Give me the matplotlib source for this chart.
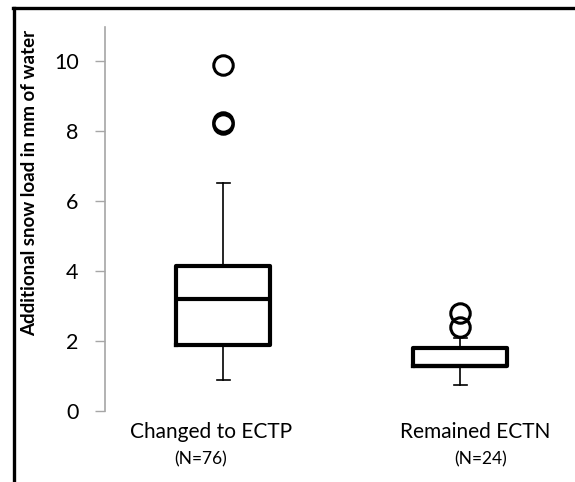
import matplotlib
matplotlib.use("Agg")
import matplotlib.pyplot as plt
from matplotlib.lines import Line2D

plt.rcParams['font.family'] = ['Lato', 'DejaVu Sans']

# Box plot statistics
groups = ['Changed to ECTP', 'Remained ECTN']
counts = ['(N=76)', '(N=24)']
whisker_low = [0.9, 0.74]
quart_low = [1.89, 1.29]
medians = [3.19, 1.3]
quart_high = [4.14, 1.81]
whisker_high = [6.52, 2.1]
outliers = [[9.89, 8.2, 8.25], [2.41, 2.81]]

W, H = 575, 482
fig = plt.figure(figsize=(W / 100, H / 100), dpi=100)
ax = fig.add_axes([105 / W, 71 / H, 460 / W, 385 / H])

stats = []
for i in range(len(groups)):
    stats.append({'whislo': whisker_low[i], 'q1': quart_low[i], 'med': medians[i],
                  'q3': quart_high[i], 'whishi': whisker_high[i], 'fliers': outliers[i]})

ax.bxp(stats, positions=[1, 2], widths=0.4, capwidths=0.055,
       boxprops=dict(color='black', linewidth=3),
       medianprops=dict(color='black', linewidth=3),
       whiskerprops=dict(color='black', linewidth=1.2),
       capprops=dict(color='black', linewidth=1.2),
       flierprops=dict(marker='o', markersize=14, markerfacecolor='none',
                       markeredgecolor='black', markeredgewidth=2.2))

ax.set_xlim(0.502, 0.502 + 460 / 237)
ax.set_ylim(0, 11)
ax.set_yticks([0, 2, 4, 6, 8, 10])
ax.tick_params(axis='y', direction='out', length=7, width=1, color='#a6a6a6',
               labelsize=15.5, pad=12)
ax.set_xticks([])
for s in ['top', 'right', 'bottom']:
    ax.spines[s].set_visible(False)
ax.spines['left'].set_color('#a6a6a6')
ax.spines['left'].set_linewidth(1.2)
ax.spines['left'].set_bounds(0, 10.97)

# category labels under each box
label_x = [211, 475]
count_x = [201, 481]
for i in range(len(groups)):
    fig.text(label_x[i] / W, 1 - 432 / H, groups[i], ha='center', va='center', fontsize=15)
    fig.text(count_x[i] / W, 1 - 459 / H, counts[i], ha='center', va='center', fontsize=12.5)

fig.text(30 / W, 1 - 183 / H, 'Additional snow load in mm of water', rotation=90,
         ha='center', va='center', fontsize=13.5, fontweight='bold')

# chart frame, only the top and left edges show
x0, y0 = 14 / W, 1 - 8 / H
fig.lines.append(Line2D([x0, x0], [0, y0], transform=fig.transFigure, color='black', linewidth=2.4))
fig.lines.append(Line2D([x0 - 0.002, 1], [y0, y0], transform=fig.transFigure, color='black', linewidth=2.4))

fig.savefig('out.png', dpi=100)
